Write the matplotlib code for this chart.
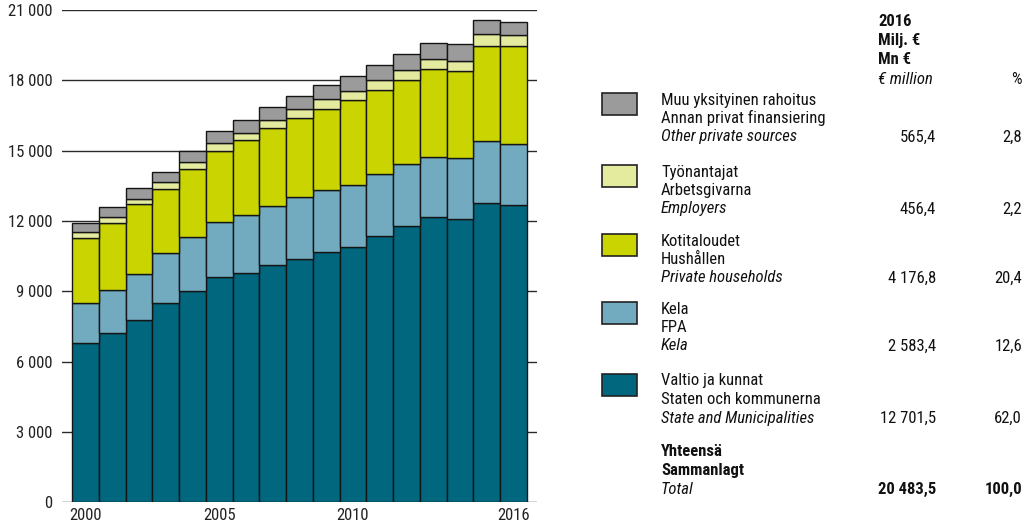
'''
    Health expenditure by source of funding, 2000-2016 (stacked bars + table legend).
'''

import matplotlib
matplotlib.use('Agg')
import matplotlib.pyplot as plt
from matplotlib.patches import Rectangle
from matplotlib import font_manager

# ============ #
# === Data === #
# ============ #

years = list(range(2000, 2017))

state  = [6790, 7230, 7770, 8490, 9030, 9590, 9800, 10130, 10380, 10680,
          10910, 11370, 11790, 12160, 12090, 12760, 12701.5]
kela   = [1730, 1835, 1975, 2135, 2280, 2375, 2460, 2490, 2625, 2645,
          2620, 2630, 2645, 2590, 2605, 2660, 2583.4]
house  = [2760, 2870, 2960, 2760, 2900, 3020, 3200, 3345, 3405, 3470,
          3610, 3600, 3570, 3730, 3710, 4055, 4176.8]
employ = [230, 230, 245, 285, 300, 325, 310, 340, 370, 400,
          415, 415, 425, 430, 440, 480, 456.4]
other  = [400, 425, 440, 440, 480, 510, 555, 540, 570, 610,
          610, 640, 685, 685, 725, 600, 565.4]

share_2016 = [62.0, 12.6, 20.4, 2.2, 2.8]

series_names = [
    ('Valtio ja kunnat', 'Staten och kommunerna', 'State and Municipalities'),
    ('Kela', 'FPA', 'Kela'),
    ('Kotitaloudet', 'Hushållen', 'Private households'),
    ('Työnantajat', 'Arbetsgivarna', 'Employers'),
    ('Muu yksityinen rahoitus', 'Annan privat finansiering', 'Other private sources'),
]
colors = ['#00677f', '#72abbf', '#c9d400', '#e5eb9e', '#9b9b9b']

y_ticks = [0, 3000, 6000, 9000, 12000, 15000, 18000, 21000]
y_tick_labels = ['0', '3 000', '6 000', '9 000', '12 000', '15 000', '18 000', '21 000']
x_tick_years = [2000, 2005, 2010, 2016]

# ============ #
# === Font === #
# ============ #

installed = {f.name for f in font_manager.fontManager.ttflist}
family = 'DejaVu Sans'
for name in ['Liberation Sans Narrow', 'Roboto Condensed', 'DejaVu Sans Condensed', 'Roboto']:
    if name in installed:
        family = name
        break
plt.rcParams['font.family'] = [family, 'DejaVu Sans']
FS = 12


def fmt(v):
    s = f'{v:,.1f}'
    return s.replace(',', ' ').replace('.', ',')


# ============= #
# === Chart === #
# ============= #

W, H = 1028, 526
fig = plt.figure(figsize=(W / 100, H / 100), dpi=100)
ax = fig.add_axes([62 / W, 1 - 502.3 / H, (537 - 62) / W, (502.3 - 10) / H])

for t in y_ticks:
    ax.axhline(t, color='#2a2a2a', lw=1.0, zorder=0)

bottom = [0] * len(years)
x = list(range(len(years)))
for vals, col in zip([state, kela, house, employ, other], colors):
    ax.bar(x, vals, width=1.0, bottom=bottom, color=col,
           edgecolor='#151515', linewidth=1.0, zorder=2)
    bottom = [b + v for b, v in zip(bottom, vals)]

ax.set_xlim(-0.885, len(years) - 1 + 0.885)
ax.set_ylim(0, 21000)
ax.set_yticks(y_ticks)
ax.set_yticklabels(y_tick_labels, fontsize=FS, color='#222222')
ax.set_xticks([years.index(y) for y in x_tick_years])
ax.set_xticklabels([str(y) for y in x_tick_years], fontsize=FS, color='#222222')
ax.tick_params(axis='y', length=0, pad=7)
ax.tick_params(axis='x', length=0, pad=4)
for s in ax.spines.values():
    s.set_visible(False)

# ========================= #
# === Table-like legend === #
# ========================= #

lax = fig.add_axes([0, 0, 1, 1])
lax.set_xlim(0, W)
lax.set_ylim(H, 0)
lax.axis('off')

TX, VX, PX = 661, 936, 1022
kw = dict(fontsize=FS, va='center', color='#111111')

for i, txt in enumerate(['2016', 'Milj. €', 'Mn €']):
    lax.text(878, 22 + 19 * i, txt, fontweight='bold', ha='left', **kw)
lax.text(878, 79, '€ million', style='italic', ha='left', **kw)
lax.text(PX, 79, '%', ha='right', **kw)

amounts = [s[-1] for s in [state, kela, house, employ, other]]
row_tops = [381, 309, 241, 172, 100]
for k in range(5):
    y0 = row_tops[k]
    lax.add_patch(Rectangle((602, y0 - 7), 35, 22, facecolor=colors[k],
                            edgecolor='#222222', lw=1.2))
    fi, sv, en = series_names[k]
    lax.text(TX, y0, fi, ha='left', **kw)
    lax.text(TX, y0 + 18, sv, ha='left', **kw)
    lax.text(TX, y0 + 37, en, ha='left', style='italic', **kw)
    lax.text(VX, y0 + 37, fmt(amounts[k]), ha='right', **kw)
    lax.text(PX, y0 + 37, fmt(share_2016[k]), ha='right', **kw)

lax.text(TX, 452, 'Yhteensä', ha='left', fontweight='bold', **kw)
lax.text(TX, 470, 'Sammanlagt', ha='left', fontweight='bold', **kw)
lax.text(TX, 489, 'Total', ha='left', style='italic', **kw)
lax.text(VX, 489, fmt(sum(amounts)), ha='right', fontweight='bold', **kw)
lax.text(PX, 489, fmt(sum(share_2016)), ha='right', fontweight='bold', **kw)

fig.savefig('out.png', dpi=100)
